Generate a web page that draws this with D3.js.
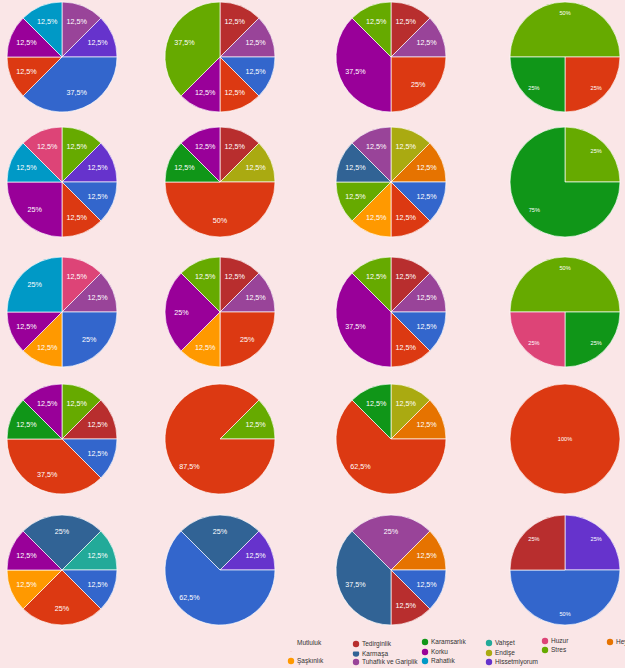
<!DOCTYPE html>
<meta charset="UTF-8">
<style>
body { margin: 0; background: #fae6e7; }
svg { display: block; }
.slice { stroke: #fff; stroke-width: 0.8px; stroke-opacity: 0.85; }
.lbl { fill: #fff; font-family: "Liberation Sans", Arial, sans-serif; text-anchor: middle; }
.leg text { font-family: "Liberation Sans", Arial, sans-serif; font-size: 6.5px; fill: #333; }
</style>
<body>
<script src="https://d3js.org/d3.v7.min.js"></script>
<script>

// categories and their colours (google palette)
var categories = ["Mutluluk", "Hüzün", "Şaşkınlık", "Karamsarlık", "Korku", "Rahatlık", "Huzur", "Stres",
                  "Tedirginlik", "Karmaşa", "Tuhaflık ve Gariplik", "Vahşet", "Endişe", "Hissetmiyorum", "Heyecan"];
var palette = ["#3366cc", "#dc3912", "#ff9900", "#109618", "#990099", "#0099c6", "#dd4477", "#66aa00",
               "#b82e2e", "#316395", "#994499", "#22aa99", "#aaaa11", "#6633cc", "#e67300"];

// one array per pie, slices listed clockwise
var q1 = [["Tuhaflık ve Gariplik", 12.5], ["Hissetmiyorum", 12.5], ["Mutluluk", 37.5], ["Hüzün", 12.5], ["Korku", 12.5], ["Rahatlık", 12.5]];
var q2 = [["Tedirginlik", 12.5], ["Tuhaflık ve Gariplik", 12.5], ["Mutluluk", 12.5], ["Hüzün", 12.5], ["Korku", 12.5], ["Stres", 37.5]];
var q3 = [["Tedirginlik", 12.5], ["Tuhaflık ve Gariplik", 12.5], ["Hüzün", 25], ["Korku", 37.5], ["Stres", 12.5]];
var q4 = [["Stres", 50], ["Hüzün", 25], ["Karamsarlık", 25]];
var q5 = [["Stres", 12.5], ["Hissetmiyorum", 12.5], ["Mutluluk", 12.5], ["Hüzün", 12.5], ["Korku", 25], ["Rahatlık", 12.5], ["Huzur", 12.5]];
var q6 = [["Tedirginlik", 12.5], ["Endişe", 12.5], ["Hüzün", 50], ["Karamsarlık", 12.5], ["Korku", 12.5]];
var q7 = [["Endişe", 12.5], ["Heyecan", 12.5], ["Mutluluk", 12.5], ["Hüzün", 12.5], ["Şaşkınlık", 12.5], ["Stres", 12.5], ["Karmaşa", 12.5], ["Tuhaflık ve Gariplik", 12.5]];
var q8 = [["Stres", 25], ["Karamsarlık", 75]];
var q9 = [["Huzur", 12.5], ["Tuhaflık ve Gariplik", 12.5], ["Mutluluk", 25], ["Şaşkınlık", 12.5], ["Korku", 12.5], ["Rahatlık", 25]];
var q10 = [["Tedirginlik", 12.5], ["Tuhaflık ve Gariplik", 12.5], ["Hüzün", 25], ["Şaşkınlık", 12.5], ["Korku", 25], ["Stres", 12.5]];
var q11 = [["Tedirginlik", 12.5], ["Tuhaflık ve Gariplik", 12.5], ["Mutluluk", 12.5], ["Hüzün", 12.5], ["Korku", 37.5], ["Stres", 12.5]];
var q12 = [["Stres", 50], ["Karamsarlık", 25], ["Huzur", 25]];
var q13 = [["Stres", 12.5], ["Tedirginlik", 12.5], ["Mutluluk", 12.5], ["Hüzün", 37.5], ["Karamsarlık", 12.5], ["Korku", 12.5]];
var q14 = [["Stres", 12.5], ["Hüzün", 87.5]];
var q15 = [["Endişe", 12.5], ["Heyecan", 12.5], ["Hüzün", 62.5], ["Karamsarlık", 12.5]];
var q16 = [["Hüzün", 100]];
var q17 = [["Karmaşa", 25], ["Vahşet", 12.5], ["Mutluluk", 12.5], ["Hüzün", 25], ["Şaşkınlık", 12.5], ["Korku", 12.5]];
var q18 = [["Karmaşa", 25], ["Hissetmiyorum", 12.5], ["Mutluluk", 62.5]];
var q19 = [["Tuhaflık ve Gariplik", 25], ["Heyecan", 12.5], ["Mutluluk", 12.5], ["Tedirginlik", 12.5], ["Karmaşa", 37.5]];
var q20 = [["Hissetmiyorum", 25], ["Mutluluk", 50], ["Tedirginlik", 25]];

var pies = [q1, q2, q3, q4, q5, q6, q7, q8, q9, q10, q11, q12, q13, q14, q15, q16, q17, q18, q19, q20];
// where the first slice starts (degrees from 12 o'clock)
var startAngles = [0, 0, 0, -90, 0, 0, 0, 0, 0, 0, 0, -90, 0, 45, 0, 0, -45, -45, -45, 0];

// legend columns, as in the picture
var legendCols = [["Mutluluk", "Hüzün", "Şaşkınlık"], ["Tedirginlik", "Karmaşa", "Tuhaflık ve Gariplik"],
                  ["Karamsarlık", "Korku", "Rahatlık"], ["Vahşet", "Endişe", "Hissetmiyorum"],
                  ["Huzur", "Stres"], ["Heyecan"]];

// layout of the collage
var colX = [62, 220, 391, 565];
var rowY = [57, 182, 312, 439, 570];
var radius = 55;

var color = d3.scaleOrdinal().domain(categories).range(palette);
var pctFmt = function(v) { return d3.format("~g")(v).replace(".", ",") + "%"; };

var svg = d3.select("body").append("svg")
    .attr("width", 625)
    .attr("height", 668);

svg.append("rect").attr("width", 625).attr("height", 668).attr("fill", "#fae6e7");

pies.forEach(function(slices, i) {
  var col = i % 4, row = Math.floor(i / 4);
  var a0 = startAngles[i] * Math.PI / 180;
  var small = col === 3;   // last column was pasted in smaller

  var pie = d3.pie()
      .sort(null)
      .value(function(d) { return d[1]; })
      .startAngle(a0)
      .endAngle(a0 + 2 * Math.PI);

  var arc = d3.arc().innerRadius(0).outerRadius(radius);
  var lr = radius * (small ? 0.8 : 0.7);
  var labelArc = d3.arc().innerRadius(lr).outerRadius(lr);

  var g = svg.append("g")
      .attr("transform", "translate(" + colX[col] + "," + rowY[row] + ")");

  var arcs = pie(slices);

  g.selectAll("path.slice")
    .data(arcs)
    .enter().append("path")
      .attr("class", "slice")
      .attr("d", arc)
      .attr("fill", function(d) { return color(d.data[0]); });

  g.selectAll("text.lbl")
    .data(arcs)
    .enter().append("text")
      .attr("class", "lbl")
      .attr("dy", "0.35em")
      .style("font-size", small ? "5.6px" : "7.2px")
      .attr("transform", function(d) {
        if (d.data[1] >= 100) return "translate(0,0)";
        // google drops the label of a slice bigger than half toward the lower left
        if (d.data[1] > 50) {
          var a = 228 * Math.PI / 180, r = radius * 0.75;
          return "translate(" + (r * Math.sin(a)) + "," + (-r * Math.cos(a)) + ")";
        }
        return "translate(" + labelArc.centroid(d) + ")";
      })
      .text(function(d) { return pctFmt(d.data[1]); });
});

// ****************** legend ***************************
var legX = [297, 362, 431, 495, 551, 616];
var legY = [[643, 648, 661], [644, 653.5, 662], [642, 652, 661], [643, 653, 662], [641, 650], [642]];

var leg = svg.append("g").attr("class", "leg");

function legItem(c, r, withDot, withText) {
  var name = legendCols[c][r];
  if (withDot) {
    leg.append("circle")
      .attr("cx", legX[c] - 6)
      .attr("cy", legY[c][r])
      .attr("r", 3.2)
      .attr("fill", color(name));
  }
  if (withText) {
    leg.append("text")
      .attr("x", legX[c])
      .attr("y", legY[c][r])
      .attr("dy", "0.35em")
      .text(name);
  }
}

legendCols.forEach(function(names, c) {
  names.forEach(function(name, r) {
    if (c < 2 && r === 0) return;
    // only a sliver of the Hüzün marker shows under the pasted strip
    legItem(c, r, true, !(c === 0 && r === 1));
  });
});

// the pasted strip hides part of the second legend row
leg.append("rect")
  .attr("x", 283).attr("y", 637)
  .attr("width", 80).attr("height", 14.5)
  .attr("fill", "#fae6e7");

legItem(0, 0, false, true);
legItem(1, 0, true, true);

</script>
</body>
